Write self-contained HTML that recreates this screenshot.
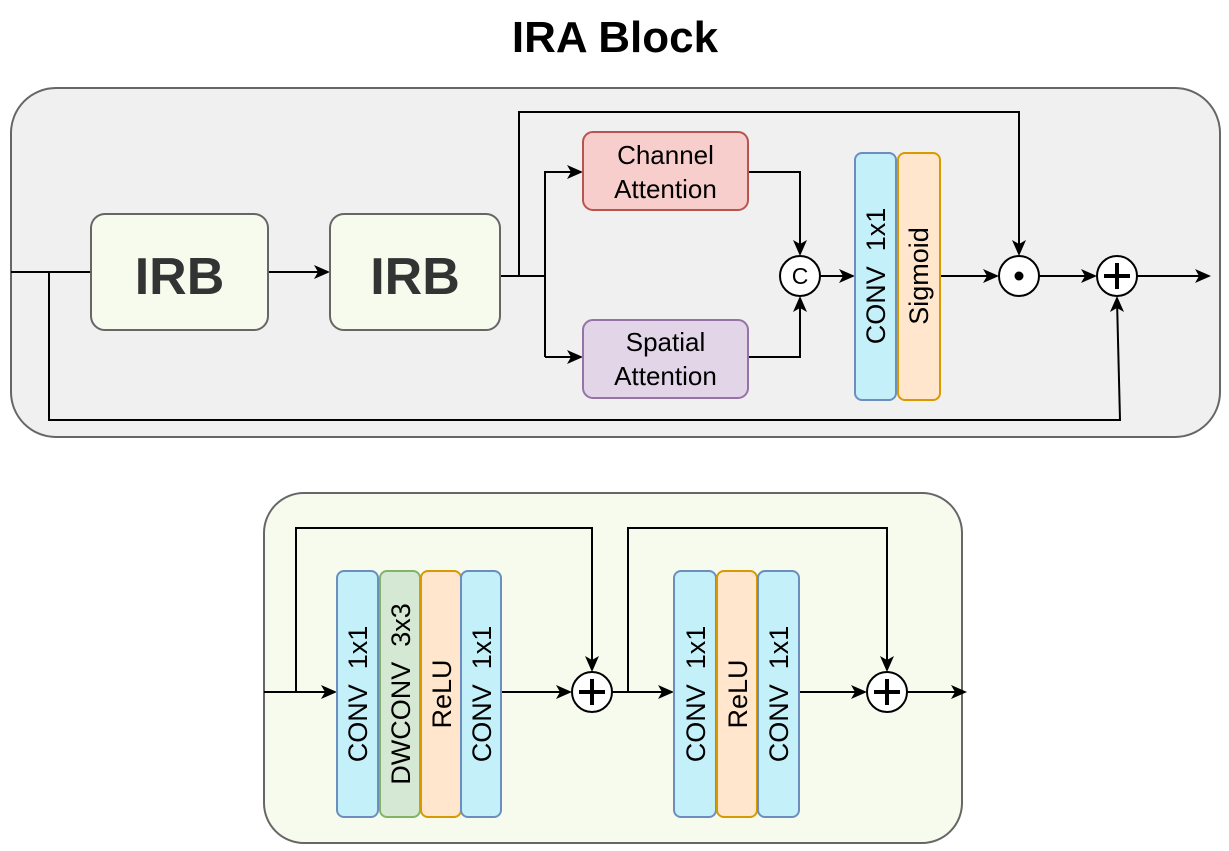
<!DOCTYPE html>
<html><head><meta charset="utf-8"><style>
html,body{margin:0;padding:0;background:#fff;}
svg{display:block;}
text{font-family:"Liberation Sans",Arial,sans-serif;white-space:pre;}
</style></head><body>
<svg width="1229" height="851" viewBox="0 0 1229 851" xmlns="http://www.w3.org/2000/svg" xml:space="preserve">
<text x="615" y="52" text-anchor="middle" font-size="44" font-weight="bold">IRA Block</text>

<!-- top container -->
<rect x="11" y="88" width="1209" height="349" rx="45" fill="#f0f0f0" stroke="#666" stroke-width="2"/>
<g fill="none" stroke="#000" stroke-width="2">
<path d="M11,272 H91"/>
<path d="M49,272 V420 H1120 L1117,300"/>
<path d="M268,272 H320"/>
<path d="M500,276 H545"/>
<path d="M519,276 V112 H1019 V250"/>
<path d="M545,357 V172 H575"/>
<path d="M545,357 H575"/>
<path d="M748,172 H800 V250"/>
<path d="M748,357 H800 V300"/>
<path d="M820,276 H848"/>
<path d="M940,276 H992"/>
<path d="M1039,276 H1092"/>
<path d="M1137,276 H1205"/>
</g>
<g fill="#000">
<path d="M330,272 l-16,-7 l4,7 l-4,7 Z"/>
<path d="M583,172 l-16,-7 l4,7 l-4,7 Z"/>
<path d="M583,357 l-16,-7 l4,7 l-4,7 Z"/>
<path d="M855,276 l-16,-7 l4,7 l-4,7 Z"/>
<path d="M999,276 l-16,-7 l4,7 l-4,7 Z"/>
<path d="M1097,276 l-16,-7 l4,7 l-4,7 Z"/>
<path d="M1211,276 l-16,-7 l4,7 l-4,7 Z"/>
<path d="M800,256 l-7,-16 l7,4 l7,-4 Z"/>
<path d="M1019,256 l-7,-16 l7,4 l7,-4 Z"/>
<path d="M800,296 l-7,16 l7,-4 l7,4 Z"/>
<path d="M1117,296 l-7,16 l7,-4 l7,4 Z"/>
</g>
<rect x="91" y="214" width="177" height="116" rx="14" fill="#f6fbee" stroke="#666" stroke-width="2"/>
<text x="179.5" y="294" text-anchor="middle" font-size="52" font-weight="bold" fill="#333">IRB</text>
<rect x="330" y="214" width="170" height="116" rx="14" fill="#f6fbee" stroke="#666" stroke-width="2"/>
<text x="415" y="294" text-anchor="middle" font-size="52" font-weight="bold" fill="#333">IRB</text>
<rect x="583" y="132" width="165" height="78" rx="10" fill="#f8cecc" stroke="#b85450" stroke-width="2"/>
<text x="665.5" y="164" text-anchor="middle" font-size="26">Channel</text>
<text x="665.5" y="198" text-anchor="middle" font-size="26">Attention</text>
<rect x="583" y="320" width="165" height="78" rx="10" fill="#e1d5e7" stroke="#9673a6" stroke-width="2"/>
<text x="665.5" y="351" text-anchor="middle" font-size="26">Spatial</text>
<text x="665.5" y="385" text-anchor="middle" font-size="26">Attention</text>
<circle cx="800" cy="276" r="20" fill="#fff" stroke="#000" stroke-width="2"/>
<text x="800" y="284" text-anchor="middle" font-size="23">C</text>
<rect x="855" y="153" width="41" height="247" rx="7" fill="#c4f0f9" stroke="#6c8ebf" stroke-width="2"/>
<text transform="translate(885,276) rotate(-90)" text-anchor="middle" font-size="27">CONV  1x1</text>
<rect x="898" y="153" width="42" height="247" rx="7" fill="#ffe6cc" stroke="#d79b00" stroke-width="2"/>
<text transform="translate(928,276) rotate(-90)" text-anchor="middle" font-size="27">Sigmoid</text>
<circle cx="1019" cy="276" r="20" fill="#fff" stroke="#000" stroke-width="2"/>
<circle cx="1019" cy="276" r="4.5" fill="#000"/>
<circle cx="1117" cy="276" r="20" fill="#fff" stroke="#000" stroke-width="2"/>
<path d="M1104,276 H1130 M1117,263 V289" stroke="#000" stroke-width="4"/>

<!-- bottom container -->
<rect x="264" y="493" width="698" height="350" rx="40" fill="#f6fbee" stroke="#666" stroke-width="2"/>
<g fill="none" stroke="#000" stroke-width="2">
<path d="M264,692 H328"/>
<path d="M296,692 V528 H592 V665"/>
<path d="M501,692 H565"/>
<path d="M612,692 H667"/>
<path d="M628,692 V528 H887 V665"/>
<path d="M799,692 H860"/>
<path d="M907,692 H960"/>
</g>
<g fill="#000">
<path d="M337,692 l-16,-7 l4,7 l-4,7 Z"/>
<path d="M572,692 l-16,-7 l4,7 l-4,7 Z"/>
<path d="M674,692 l-16,-7 l4,7 l-4,7 Z"/>
<path d="M867,692 l-16,-7 l4,7 l-4,7 Z"/>
<path d="M967,692 l-16,-7 l4,7 l-4,7 Z"/>
<path d="M592,672 l-7,-16 l7,4 l7,-4 Z"/>
<path d="M887,672 l-7,-16 l7,4 l7,-4 Z"/>
</g>
<rect x="337" y="571" width="41" height="246" rx="7" fill="#c4f0f9" stroke="#6c8ebf" stroke-width="2"/>
<text transform="translate(367,694) rotate(-90)" text-anchor="middle" font-size="27">CONV  1x1</text>
<rect x="380" y="571" width="40" height="246" rx="7" fill="#d5e8d4" stroke="#82b366" stroke-width="2"/>
<text transform="translate(410,694) rotate(-90)" text-anchor="middle" font-size="27">DWCONV  3x3</text>
<rect x="421" y="571" width="40" height="246" rx="7" fill="#ffe6cc" stroke="#d79b00" stroke-width="2"/>
<text transform="translate(451,694) rotate(-90)" text-anchor="middle" font-size="27">ReLU</text>
<rect x="461" y="571" width="40" height="246" rx="7" fill="#c4f0f9" stroke="#6c8ebf" stroke-width="2"/>
<text transform="translate(491,694) rotate(-90)" text-anchor="middle" font-size="27">CONV  1x1</text>
<circle cx="592" cy="692" r="20" fill="#fff" stroke="#000" stroke-width="2"/>
<path d="M579,692 H605 M592,679 V705" stroke="#000" stroke-width="4"/>
<rect x="674" y="571" width="42" height="246" rx="7" fill="#c4f0f9" stroke="#6c8ebf" stroke-width="2"/>
<text transform="translate(705,694) rotate(-90)" text-anchor="middle" font-size="27">CONV  1x1</text>
<rect x="717" y="571" width="40" height="246" rx="7" fill="#ffe6cc" stroke="#d79b00" stroke-width="2"/>
<text transform="translate(747,694) rotate(-90)" text-anchor="middle" font-size="27">ReLU</text>
<rect x="758" y="571" width="41" height="246" rx="7" fill="#c4f0f9" stroke="#6c8ebf" stroke-width="2"/>
<text transform="translate(788,694) rotate(-90)" text-anchor="middle" font-size="27">CONV  1x1</text>
<circle cx="887" cy="692" r="20" fill="#fff" stroke="#000" stroke-width="2"/>
<path d="M874,692 H900 M887,679 V705" stroke="#000" stroke-width="4"/>
</svg>
</body></html>
